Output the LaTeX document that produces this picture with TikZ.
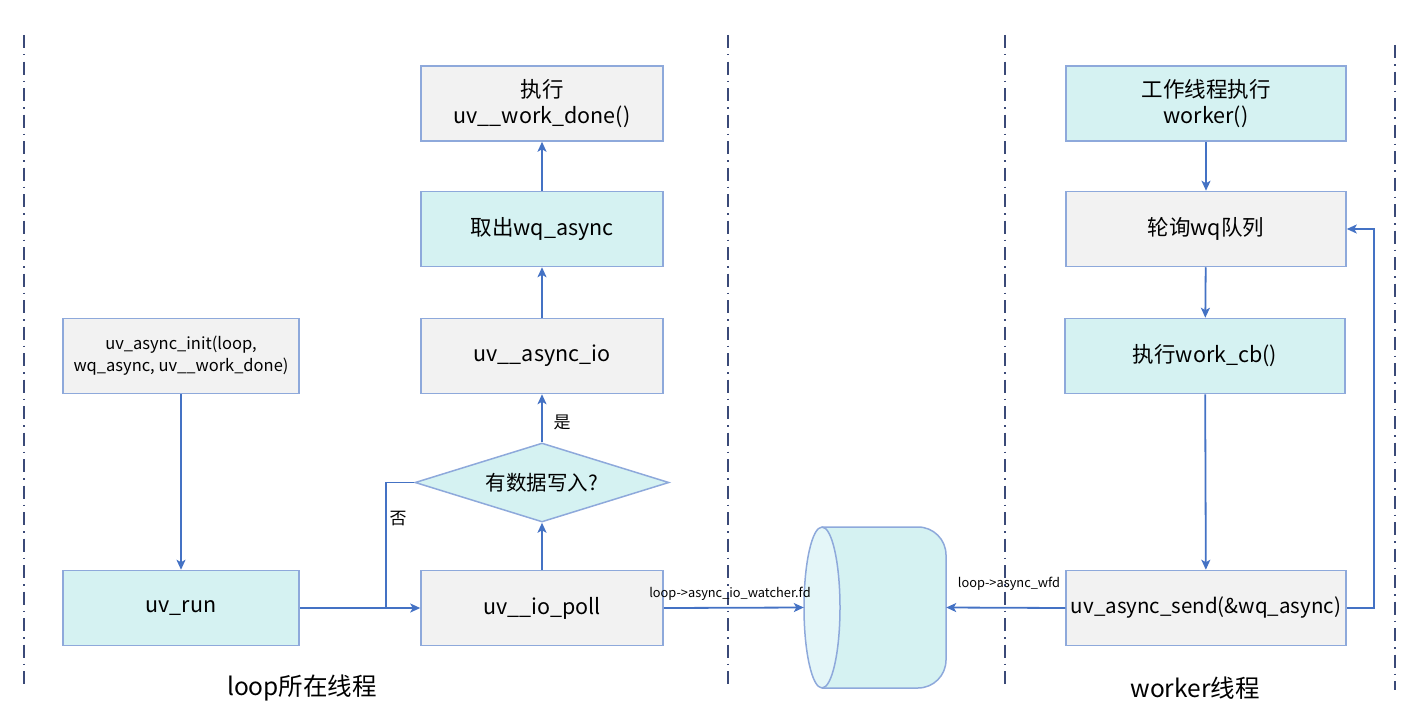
\documentclass[tikz,border=0pt]{standalone}
\usepackage{fontspec}
\setmainfont{Noto Sans CJK SC}
\usetikzlibrary{shapes.geometric,arrows.meta,calc}
\definecolor{bordc}{HTML}{8EA9DB}
\definecolor{grayf}{HTML}{F2F2F2}
\definecolor{cyanf}{HTML}{D5F2F2}
\definecolor{cyanl}{HTML}{E4F6F8}
\definecolor{arrc}{HTML}{4472C4}
\definecolor{sepc}{HTML}{3B4A78}
\begin{document}
\begin{tikzpicture}[x=1pt,y=-1pt,
  box/.style={draw=bordc,line width=1.5pt,minimum width=242pt,minimum height=75pt,inner sep=2pt,align=center,font=\fontsize{21.5}{26}\selectfont},
  gbox/.style={box,fill=grayf},
  cbox/.style={box,fill=cyanf},
  arr/.style={draw=arrc,line width=1.8pt,-{Stealth[length=10pt,width=9pt,inset=2.5pt]}},
  conn/.style={draw=arrc,line width=1.8pt},
  sep/.style={draw=sepc,line width=1.7pt,dash pattern=on 13pt off 6pt on 1.5pt off 6pt},
  lbl/.style={font=\fontsize{17}{19}\selectfont},
  small/.style={font=\fontsize{12.8}{14}\selectfont,inner sep=1pt},
  title/.style={font=\fontsize{24.5}{28}\selectfont}
]
\useasboundingbox (0,0) rectangle (1420,725);
% separators
\draw[sep] (24,35) -- (24,690);
\draw[sep] (728,35) -- (728,690);
\draw[sep] (1005,35) -- (1005,690);
\draw[sep] (1395,45) -- (1395,690);

% middle column
\node[gbox] (done) at (542,103.5) {执行\\uv\_\_work\_done()};
\node[cbox] (take) at (542,229) {取出wq\_async};
\node[gbox] (aio) at (542,356) {uv\_\_async\_io};
\node[draw=bordc,line width=1.5pt,fill=cyanf,diamond,shape aspect=3.2,minimum width=254pt,minimum height=79pt,inner sep=0pt,font=\fontsize{20.5}{23}\selectfont] (dec) at (542,482.5) {有数据写入?};
\node[gbox] (poll) at (542,608) {uv\_\_io\_poll};

% left column
\node[gbox,minimum width=236pt,font=\fontsize{16.5}{22}\selectfont] (init) at (181,356) {uv\_async\_init(loop,\\wq\_async, uv\_\_work\_done)};
\node[cbox,minimum width=236pt] (run) at (181,608) {uv\_run};

% right column
\node[cbox,minimum width=280pt] (wk) at (1206,103.5) {工作线程执行\\worker()};
\node[gbox,minimum width=280pt] (poll2) at (1206,229) {轮询wq队列};
\node[cbox,minimum width=280pt] (cb) at (1205,356) {执行work\_cb()};
\node[gbox,minimum width=280pt,font=\fontsize{20.5}{25}\selectfont] (send) at (1206,608) {uv\_async\_send(\&wq\_async)};

% cylinder
\draw[draw=bordc,line width=1.5pt,fill=cyanf,rounded corners=28pt] (822,527) -- (946,527) -- (946,688) -- (822,688);
\draw[draw=bordc,line width=1.5pt,fill=cyanl] (822,607.5) ellipse [x radius=18pt,y radius=80.5pt];
\node[minimum width=142pt,minimum height=161pt,inner sep=0pt] (cyl) at (875,607.5) {};

% connectors
\coordinate (j) at (386,608);
\draw[arr] (init) -- (run);
\draw[arr] (run) -- (poll);
\draw[conn] (dec.west) -| (j);
\node[lbl] (no) at (398,519) {否};
\draw[arr] (poll) -- (dec);
\draw[arr] (dec) -- (aio);
\node[lbl] (yes) at (562,422) {是};
\draw[arr] (aio) -- (take);
\draw[arr] (take) -- (done);
\draw[arr] (poll.east) -- (cyl.west);
\node[small] (l1) at (730,594) {loop->async\_io\_watcher.fd};
\draw[arr] (send.west) -- (cyl.east);
\node[small] (l2) at (1009,584) {loop->async\_wfd};
\draw[arr] (wk) -- (poll2);
\draw[arr] (poll2) -- (cb);
\draw[arr] (cb) -- (send);
\draw[arr] (send.east) -- ++(27,0) |- (poll2.east);

% titles
\node[title] (t1) at (302,688) {loop所在线程};
\node[title] (t2) at (1195,688) {worker线程};
\end{tikzpicture}
\end{document}
